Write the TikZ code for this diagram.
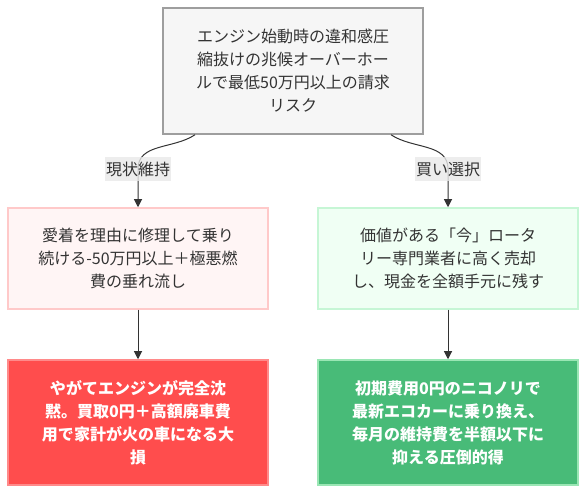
\documentclass[tikz,border=0pt]{standalone}
\usepackage{fontspec}
\setmainfont{Noto Sans CJK JP}
\usetikzlibrary{arrows.meta}

\definecolor{ink}{HTML}{333333}
\definecolor{topfill}{HTML}{F6F6F6}
\definecolor{topdraw}{HTML}{9E9E9E}
\definecolor{keepfill}{HTML}{FFF5F5}
\definecolor{keepdraw}{HTML}{FFC9C9}
\definecolor{sellfill}{HTML}{F0FFF4}
\definecolor{selldraw}{HTML}{C6F6D5}
\definecolor{lossfill}{HTML}{FF4D4D}
\definecolor{lossdraw}{HTML}{FF8A8A}
\definecolor{gainfill}{HTML}{48BB78}
\definecolor{gaindraw}{HTML}{9AE6B4}
\definecolor{tagbg}{HTML}{E8E8E8}

\begin{document}
\begin{tikzpicture}[x=1bp, y=1bp,
  box/.style={rectangle, line width=1.5bp, minimum width=260bp, align=center,
    text=ink, font=\fontsize{16bp}{23bp}\selectfont},
  flow/.style={draw=ink, line width=1bp, -{Triangle[length=8bp,width=8bp]}},
  tag/.style={fill=tagbg, fill opacity=0.8, text opacity=1, text=ink,
    inner xsep=1bp, inner ysep=5bp, font=\fontsize{16bp}{23bp}\selectfont}]

\useasboundingbox (0,0) rectangle (586,494);

% Starting situation
\node[box, fill=topfill, draw=topdraw, minimum height=126bp] (risk) at (293,423)
  {エンジン始動時の違和感圧\\縮抜けの兆候オーバーホー\\ルで最低50万円以上の請求\\リスク};

% The two choices
\node[box, fill=keepfill, draw=keepdraw, minimum height=101bp] (keep) at (138,235.5)
  {愛着を理由に修理して乗り\\続ける-50万円以上＋極悪燃\\費の垂れ流し};
\node[box, fill=sellfill, draw=selldraw, minimum height=101bp] (sell) at (448,235.5)
  {価値がある「今」ロータ\\リー専門業者に高く売却\\し、現金を全額手元に残す};

% Outcomes
\node[box, fill=lossfill, draw=lossdraw, text=white, minimum height=125bp,
  font=\fontsize{16bp}{23bp}\selectfont\bfseries] (loss) at (138,71.5)
  {やがてエンジンが完全沈\\黙。買取0円＋高額廃車費\\用で家計が火の車になる大\\損};
\node[box, fill=gainfill, draw=gaindraw, text=white, minimum height=125bp,
  font=\fontsize{16bp}{23bp}\selectfont\bfseries] (gain) at (448,71.5)
  {初期費用0円のニコノリで\\最新エコカーに乗り換え、\\毎月の維持費を半額以下に\\抑える圧倒的得};

% Where the edge labels sit
\coordinate (kL) at (138,325);
\coordinate (kR) at (448,325);

% Connectors
\draw[flow] ([xshift=-98bp]risk.south) to[out=-146,in=90] (kL) -- (keep.north);
\draw[flow] ([xshift=98bp]risk.south) to[out=-34,in=90] (kR) -- (sell.north);
\foreach \a/\b in {keep/loss, sell/gain} {
    \draw[flow] (\a) -- (\b);
}

% Edge labels
\node[tag] (tL) at (kL) {現状維持};
\node[tag] (tR) at (kR) {買い選択};

\end{tikzpicture}
\end{document}
